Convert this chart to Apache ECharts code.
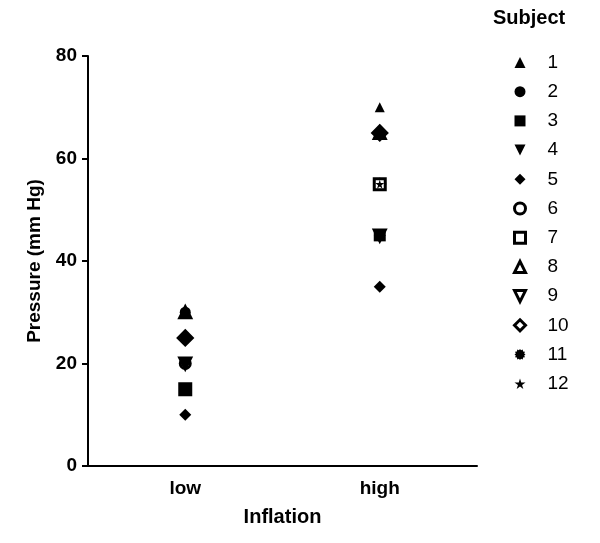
<!DOCTYPE html>
<html><head><meta charset="utf-8">
<script src="https://cdn.jsdelivr.net/npm/echarts@6/dist/echarts.min.js"></script>
<style>html,body{margin:0;padding:0;background:#fff}#c{width:600px;height:543px}</style>
</head><body><div id="c"></div>
<script>
const categories = ['low', 'high'];
const subjects = ['1','2','3','4','5','6','7','8','9','10','11','12'];
// values per subject: [low, high]
const s1 = [30, 70];
const s2 = [30, 65];
const s3 = [15, 45];
const s4 = [20, 45];
const s5 = [10, 35];
const s6 = [20, 55];
const s7 = [15, 55];
const s8 = [30, 65];
const s9 = [20, 45];
const s10 = [25, 65];
const s11 = [25, 45];
const s12 = [25, 55];
const values = [s1,s2,s3,s4,s5,s6,s7,s8,s9,s10,s11,s12];
const yTicks = [0, 20, 40, 60, 80];

const FONT = 'Liberation Sans, Arial, Helvetica, sans-serif';
const triDown = 'path://M0,0 L100,0 L50,100 Z';
const gear = 'path://M50,0 L60,12 L75,5 L78,22 L95,25 L88,40 L100,50 L88,60 L95,75 L78,78 L75,95 L60,88 L50,100 L40,88 L25,95 L22,78 L5,75 L12,60 L0,50 L12,40 L5,25 L22,22 L25,5 L40,12 Z';
const star = 'path://M50,0 L61,35 L98,35 L68,57 L79,91 L50,70 L21,91 L32,57 L2,35 L39,35 Z';
const styles = [
  {symbol:'triangle', size:10, open:false},
  {symbol:'circle', size:11, open:false},
  {symbol:'rect', size:12, open:false},
  {symbol:triDown, size:10, open:false},
  {symbol:'diamond', size:12, open:false},
  {symbol:'circle', size:10, open:true},
  {symbol:'rect', size:11, open:true},
  {symbol:'triangle', size:11, open:true},
  {symbol:triDown, size:11, open:true},
  {symbol:'diamond', size:14, open:true},
  {symbol:gear, size:12, open:false},
  {symbol:star, size:9, open:false}
];
const styleOf = st => st.open
  ? {color:'#fff', borderColor:'#000', borderWidth:3, opacity:1}
  : {color:'#000', borderColor:'#000', borderWidth:0, opacity:1};

const series = subjects.map((name, i) => ({
  name: name,
  type: 'scatter',
  symbol: styles[i].symbol,
  symbolSize: styles[i].size,
  itemStyle: styleOf(styles[i]),
  emphasis: {disabled: true},
  data: categories.map((c, j) => [c, values[i][j]]),
  z: styles[i].open ? 2 : 3
}));

const chart = echarts.init(document.getElementById('c'), null, {renderer:'canvas'});
chart.setOption({
  animation: false,
  textStyle: {fontFamily: FONT},
  grid: {left: 88, right: 123, top: 56, bottom: 77},
  xAxis: {
    type: 'category', data: categories, boundaryGap: true,
    name: 'Inflation', nameLocation: 'middle', nameGap: 41,
    nameTextStyle: {fontSize: 20, fontWeight: 'bold', color: '#000', fontFamily: FONT},
    axisLine: {lineStyle: {color: '#000', width: 2}},
    axisTick: {alignWithLabel: true, length: 6, lineStyle: {color:'#000', width: 2}},
    axisLabel: {fontSize: 19, fontWeight: 'bold', color: '#000', margin: 13, fontFamily: FONT}
  },
  yAxis: {
    type: 'value', min: 0, max: 80, interval: 20,
    name: 'Pressure (mm Hg)', nameLocation: 'middle', nameGap: 44,
    nameTextStyle: {fontSize: 19, fontWeight: 'bold', color: '#000', fontFamily: FONT},
    axisLine: {show: true, lineStyle: {color: '#000', width: 2}},
    axisTick: {show: true, length: 6, lineStyle: {color:'#000', width: 2}},
    axisLabel: {fontSize: 19, fontWeight: 'bold', color: '#000', margin: 11, fontFamily: FONT,
      formatter: v => yTicks.includes(v) ? String(v) : ''},
    splitLine: {show: false}
  },
  legend: {
    orient: 'vertical', left: 513, top: 53, padding: 0,
    itemWidth: 11, itemHeight: 11, itemGap: 10.2,
    selectedMode: false,
    data: subjects.map((name, i) => ({
      name: name,
      icon: styles[i].symbol,
      itemStyle: styleOf(styles[i])
    })),
    textStyle: {fontSize: 19, color: '#000', padding: [0,0,0,17], fontFamily: FONT}
  },
  graphic: [{
    type: 'text', left: 493, top: 8,
    style: {text: 'Subject', font: 'bold 20px ' + FONT, fill: '#000'}
  }],
  series: series
});
</script></body></html>
